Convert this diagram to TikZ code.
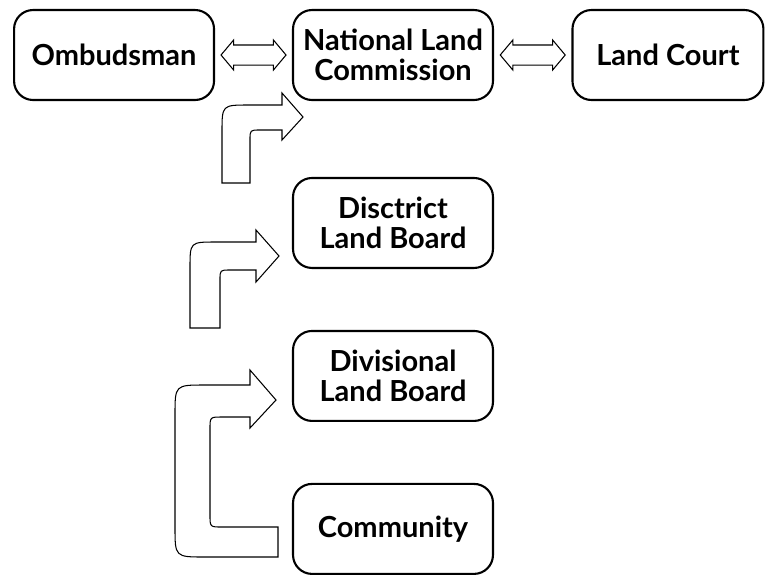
\documentclass[tikz,border=0pt]{standalone}
\usepackage{fontspec}
\setmainfont{Lato}
\usetikzlibrary{shapes,arrows,calc}
\tikzstyle{block} = [rectangle, draw, line width=1.2pt, align=center, rounded corners=0.38cm,
    minimum width=4cm, minimum height=1.8cm, font=\fontsize{16.5}{17}\selectfont\bfseries]
\tikzstyle{dblarrow} = [double arrow, draw, fill=white, line width=0.6pt, inner sep=0pt,
    inner ysep=0.19cm, minimum height=1.3cm, double arrow head extend=0.1cm,
    double arrow tip angle=100]
\tikzstyle{bentarrow} = [draw, fill=white, line width=0.6pt, line join=miter]

\begin{document}
\begin{tikzpicture}[x=0.02cm, y=-0.02cm]

    \useasboundingbox (0,0) rectangle (767,576);

    % Place nodes
    \node [block] at (393,55) (nlc) {National Land\\Commission};
    \node [block, left of=nlc, node distance=5.58cm] (omb) {Ombudsman};
    \node [block, right of=nlc, node distance=5.5cm, minimum width=3.82cm] (court) {Land Court};
    \node [block, below of=nlc, node distance=3.36cm] (district) {Disctrict\\Land Board};
    \node [block, below of=district, node distance=3.06cm] (divisional) {Divisional\\Land Board};
    \node [block, below of=divisional, node distance=3.06cm] (community) {Community};

    % Draw edges
    \node [dblarrow] at ($(omb.east)!0.5!(nlc.west)$) (omb-nlc) {};
    \node [dblarrow] at ($(nlc.east)!0.5!(court.west)$) (nlc-court) {};

    % district -> national
    \path [bentarrow]
    (222,183) -- (222,132) .. controls (222,105) .. (249,105)
    -- (282,105) -- (282,93) -- (303,117) -- (282,140) -- (282,130)
    -- (260,130) .. controls (250,130) .. (250,140) -- (250,183) -- cycle;

    % divisional -> district
    \path [bentarrow]
    (190,328) -- (190,268) .. controls (190,242) .. (216,242)
    -- (256,242) -- (256,230) -- (279,256) -- (256,282) -- (256,270)
    -- (230,270) .. controls (220,270) .. (220,280) -- (220,328) -- cycle;

    % community -> divisional
    \path [bentarrow]
    (278,557) -- (205,557) .. controls (175,557) .. (175,527)
    -- (175,415) .. controls (175,385) .. (205,385)
    -- (250,385) -- (250,370) -- (276,400) -- (250,428) -- (250,417)
    -- (222,417) .. controls (210,417) .. (210,429)
    -- (210,515) .. controls (210,527) .. (222,527) -- (278,527) -- cycle;

\end{tikzpicture}
\end{document}
